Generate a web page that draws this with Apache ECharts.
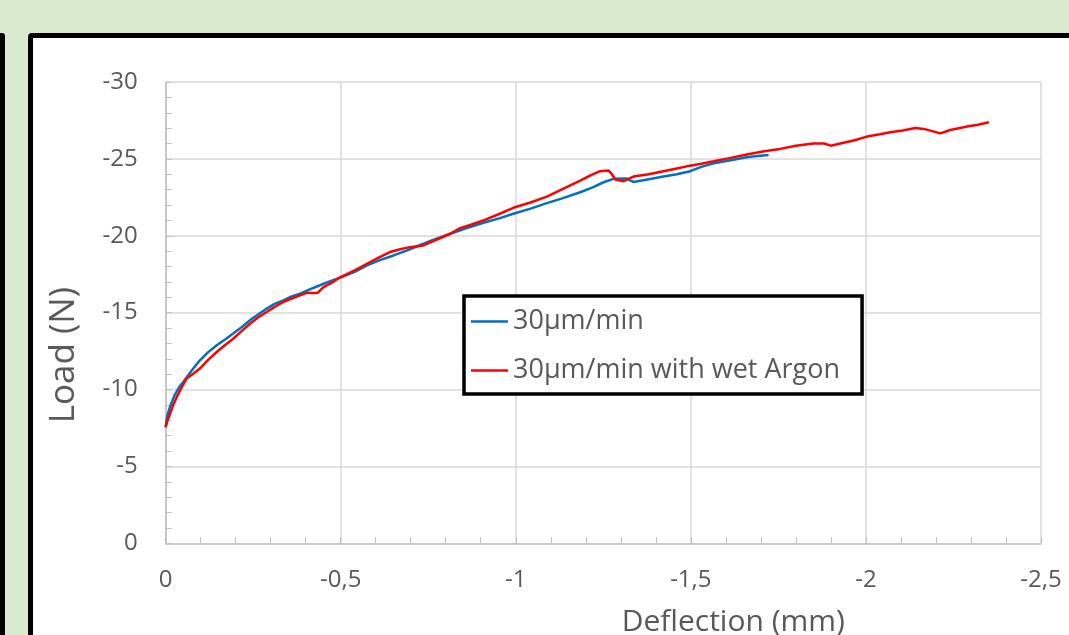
<!DOCTYPE html>
<html>
<head>
<meta charset="utf-8">
<script src="https://cdn.jsdelivr.net/npm/echarts@6/dist/echarts.min.js"></script>
<style>
  html, body { margin: 0; padding: 0; width: 1069px; height: 635px; overflow: hidden; background: #d9eacf; }
  #strip { position: absolute; left: 0; top: 33px; width: 5px; height: 700px; background: #000; border-radius: 0 3px 0 0; }
  #panel { position: absolute; left: 28px; top: 33px; width: 1100px; height: 700px; background: #fff; border: 5px solid #000; border-radius: 4px; box-sizing: border-box; }
  #chart { position: absolute; left: 0; top: 0; width: 1069px; height: 635px; }
</style>
</head>
<body>
<div id="strip"></div>
<div id="panel"></div>
<div id="chart"></div>
<script>
// ---- data ----
const seriesNames = ['30µm/min', '30µm/min with wet Argon'];

const blueX = [0, -0.005, -0.013, -0.025, -0.04, -0.051, -0.075, -0.098, -0.12, -0.146, -0.17, -0.193, -0.217, -0.241, -0.265, -0.289, -0.31, -0.336, -0.36, -0.384, -0.41, -0.432, -0.465, -0.498, -0.54, -0.575, -0.61, -0.651, -0.69, -0.717, -0.76, -0.813, -0.86, -0.908, -0.955, -0.993, -1.04, -1.089, -1.135, -1.184, -1.22, -1.251, -1.279, -1.317, -1.326, -1.336, -1.38, -1.422, -1.46, -1.498, -1.53, -1.565, -1.61, -1.66, -1.69, -1.722];
const blueY = [-7.55, -8.3, -8.9, -9.6, -10.2, -10.5, -11.25, -11.9, -12.4, -12.88, -13.25, -13.64, -14.05, -14.5, -14.9, -15.26, -15.55, -15.8, -16.05, -16.23, -16.5, -16.7, -17.0, -17.27, -17.65, -18.07, -18.4, -18.72, -19.05, -19.3, -19.7, -20.13, -20.5, -20.85, -21.15, -21.43, -21.75, -22.12, -22.45, -22.83, -23.15, -23.48, -23.7, -23.72, -23.6, -23.5, -23.68, -23.85, -24.0, -24.2, -24.48, -24.71, -24.9, -25.1, -25.18, -25.26];

const redX = [0, -0.005, -0.013, -0.022, -0.032, -0.045, -0.06, -0.08, -0.098, -0.12, -0.146, -0.17, -0.193, -0.217, -0.241, -0.265, -0.289, -0.31, -0.336, -0.36, -0.384, -0.405, -0.422, -0.435, -0.45, -0.475, -0.498, -0.54, -0.575, -0.61, -0.641, -0.67, -0.698, -0.736, -0.77, -0.813, -0.841, -0.87, -0.908, -0.946, -0.993, -1.04, -1.089, -1.135, -1.184, -1.215, -1.241, -1.265, -1.275, -1.284, -1.308, -1.336, -1.38, -1.422, -1.46, -1.498, -1.53, -1.565, -1.61, -1.66, -1.71, -1.755, -1.8, -1.85, -1.88, -1.9, -1.927, -1.965, -2.003, -2.04, -2.07, -2.105, -2.141, -2.165, -2.184, -2.213, -2.241, -2.289, -2.32, -2.351];
const redY = [-7.55, -7.95, -8.44, -9.0, -9.52, -10.1, -10.71, -11.05, -11.36, -11.9, -12.44, -12.9, -13.3, -13.8, -14.28, -14.7, -15.04, -15.35, -15.69, -15.92, -16.12, -16.3, -16.28, -16.3, -16.65, -16.95, -17.3, -17.75, -18.18, -18.6, -18.94, -19.12, -19.26, -19.37, -19.7, -20.13, -20.5, -20.7, -21.0, -21.35, -21.82, -22.15, -22.55, -23.05, -23.59, -23.95, -24.2, -24.24, -24.0, -23.65, -23.55, -23.85, -24.0, -24.2, -24.38, -24.56, -24.68, -24.84, -25.05, -25.28, -25.5, -25.65, -25.85, -26.0, -26.0, -25.86, -26.0, -26.2, -26.45, -26.6, -26.73, -26.85, -27.01, -26.95, -26.84, -26.66, -26.88, -27.1, -27.22, -27.38];

const xAxisTitle = 'Deflection (mm)';
const yAxisTitle = 'Load (N)';

// ---- chart ----
const zip = (xs, ys) => xs.map((x, i) => [x, ys[i]]);
const fmt = v => String(v).replace('.', ',');
const txt = '#595959';
const font = 'Open Sans';

const chart = echarts.init(document.getElementById('chart'), null, { renderer: 'canvas' });
chart.setOption({
  animation: false,
  backgroundColor: 'transparent',
  textStyle: { fontFamily: font },
  grid: { left: 165.6, right: 28, top: 82, bottom: 91.7, containLabel: false, outerBoundsMode: 'none' },
  legend: {
    orient: 'vertical',
    left: 464, top: 296,
    padding: [12, 22, 10, 7],
    borderColor: '#000', borderWidth: 3.5,
    backgroundColor: '#fff',
    icon: 'rect',
    itemWidth: 37, itemHeight: 2.5, itemGap: 22,
    textStyle: { fontFamily: font, fontSize: 27, color: txt },
    data: seriesNames
  },
  xAxis: {
    type: 'value', min: -2.5, max: 0, interval: 0.5, inverse: true,
    name: xAxisTitle, nameLocation: 'middle', nameGap: 64,
    nameTextStyle: { fontFamily: font, fontSize: 30, color: txt, padding: [0, 0, 0, 260] },
    axisLine: { show: true, onZero: false, lineStyle: { color: '#bfbfbf', width: 1.5 } },
    axisTick: { show: true, inside: true, length: 6, lineStyle: { color: '#bfbfbf' } },
    minorTick: { show: true, splitNumber: 5, length: 6, lineStyle: { color: '#bfbfbf' } },
    splitLine: { show: true, lineStyle: { color: '#d9d9d9', width: 1.5 } },
    axisLabel: { formatter: fmt, fontFamily: font, fontSize: 24, color: txt, margin: 25 }
  },
  yAxis: {
    type: 'value', min: -30, max: 0, interval: 5, inverse: true,
    name: yAxisTitle, nameLocation: 'middle', nameGap: 84,
    nameTextStyle: { fontFamily: font, fontSize: 35, color: txt, padding: [0, 85, 0, 0] },
    axisLine: { show: true, onZero: false, lineStyle: { color: '#bfbfbf', width: 1.5 } },
    axisTick: { show: true, inside: true, length: 6, lineStyle: { color: '#bfbfbf' } },
    minorTick: { show: true, splitNumber: 5, length: 6, lineStyle: { color: '#bfbfbf' } },
    splitLine: { show: true, lineStyle: { color: '#d9d9d9', width: 1.5 } },
    axisLabel: { formatter: fmt, fontFamily: font, fontSize: 24, color: txt, margin: 28 }
  },
  series: [
    { name: seriesNames[0], type: 'line', data: zip(blueX, blueY), symbol: 'none',
      lineStyle: { color: '#0070c0', width: 2.5 }, itemStyle: { color: '#0070c0' } },
    { name: seriesNames[1], type: 'line', data: zip(redX, redY), symbol: 'none',
      lineStyle: { color: '#ff0000', width: 2.5 }, itemStyle: { color: '#ff0000' } }
  ]
});
</script>
</body>
</html>
